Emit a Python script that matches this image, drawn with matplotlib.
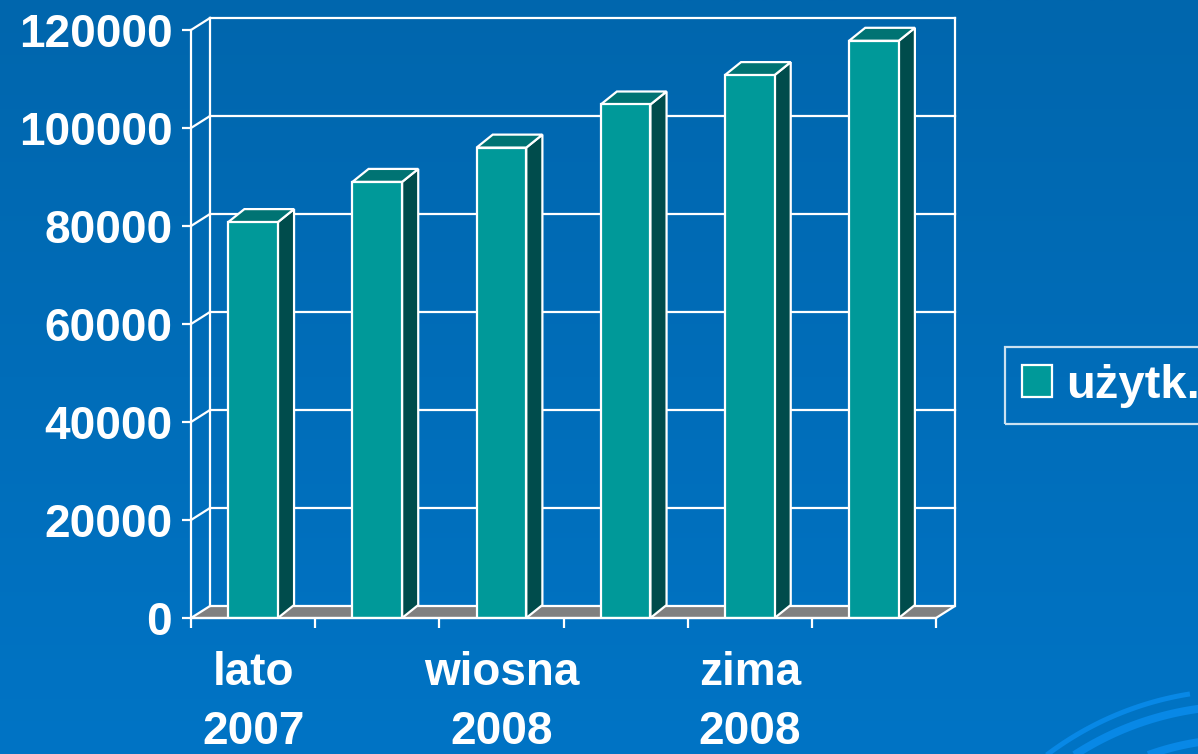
import numpy as np
import matplotlib.pyplot as plt
from matplotlib.patches import Polygon, Patch

plt.rcParams['font.family'] = ['Liberation Sans', 'DejaVu Sans']
plt.rcParams['font.weight'] = 'bold'

# data
values = [80800, 89000, 96000, 104800, 110800, 117800]
label_pos = [0, 2, 4]
labels = ['lato\n2007', 'wiosna\n2008', 'zima\n2008']
y_ticks = np.arange(0, 120001, 20000)
legend_label = 'użytk.'

# colours
c_front = '#009999'
c_top = '#007373'
c_side = '#004c4c'
c_floor = '#808080'
W = 'white'

dx, dy = 0.153, 2450     # wall depth (categories, value units)
bdx, bdy = 0.13, 2650    # bar depth
half = 0.2               # half bar width
lw = 1.6

fig = plt.figure(figsize=(11.98, 7.54), dpi=100)

# background gradient + decorative arcs
bg = fig.add_axes([0, 0, 1, 1])
grad = np.linspace(0, 1, 256)[:, None]
top_c = np.array([0x00, 0x66, 0xAD]) / 255
bot_c = np.array([0x00, 0x74, 0xC5]) / 255
img = top_c[None, None, :] * (1 - grad[:, :, None]) + bot_c[None, None, :] * grad[:, :, None]
bg.imshow(img, extent=[0, 1198, 754, 0], aspect='auto')
cx, cy = 1240, 1010
for r, a0, a1, w in [(320, 99, 140, 5), (304, 80, 140, 8), (271, 80, 140, 8)]:
    t = np.radians(np.linspace(a0, a1, 100))
    bg.plot(cx + r * np.cos(t), cy - r * np.sin(t), color='#0888e6', lw=w * 0.72,
            solid_capstyle='butt')
bg.set_xlim(0, 1198)
bg.set_ylim(754, 0)
bg.axis('off')

ax = fig.add_axes([191 / 1198, 136 / 754, 764 / 1198, 600 / 754])
ax.set_xlim(-0.5, 5.5 + dx)
ax.set_ylim(0, 120000 + dy)
ax.patch.set_visible(False)
for s in ax.spines.values():
    s.set_visible(False)

x0, x1 = -0.5, len(values) - 0.5
ymax = y_ticks[-1]

# floor
ax.add_patch(Polygon([(x0, 0), (x1, 0), (x1 + dx, dy), (x0 + dx, dy)],
                     facecolor=c_floor, edgecolor=W, lw=lw, clip_on=False, zorder=1))
# back wall gridlines and left wall diagonals
for t in y_ticks[1:]:
    ax.plot([x0 + dx, x1 + dx], [t + dy, t + dy], color=W, lw=lw, clip_on=False, zorder=1)
    ax.plot([x0, x0 + dx], [t, t + dy], color=W, lw=lw, clip_on=False, zorder=1)
ax.plot([x0 + dx, x0 + dx], [dy, ymax + dy], color=W, lw=lw, clip_on=False, zorder=1)
ax.plot([x1 + dx, x1 + dx], [dy, ymax + dy], color=W, lw=lw, clip_on=False, zorder=1)
ax.plot([x0, x0], [0, ymax], color=W, lw=lw, clip_on=False, zorder=1)

# 3d bars
for i, v in enumerate(values):
    l, r = i - half, i + half
    ax.add_patch(Polygon([(r, 0), (r + bdx, bdy), (r + bdx, v + bdy), (r, v)],
                         facecolor=c_side, edgecolor=W, lw=lw, zorder=3))
    ax.add_patch(Polygon([(l, v), (l + bdx, v + bdy), (r + bdx, v + bdy), (r, v)],
                         facecolor=c_top, edgecolor=W, lw=lw, zorder=3))
    ax.add_patch(Polygon([(l, 0), (r, 0), (r, v), (l, v)],
                         facecolor=c_front, edgecolor=W, lw=lw, zorder=4))
ax.plot([x0, x1], [0, 0], color=W, lw=lw, clip_on=False, zorder=5)

# ticks
ax.set_yticks(y_ticks)
ax.set_yticklabels([str(t) for t in y_ticks])
ax.tick_params(axis='y', length=6.5, width=lw, color=W, pad=7,
               labelsize=33, labelcolor=W)
ax.set_xticks(np.arange(x0, x1 + 0.01, 1))
ax.set_xticklabels([])
ax.tick_params(axis='x', which='major', length=7.5, width=lw, color=W)
ax.set_xticks(label_pos, minor=True)
ax.set_xticklabels(labels, minor=True)
ax.tick_params(axis='x', which='minor', length=0, pad=24, labelsize=33, labelcolor=W)
for lbl in ax.get_xticklabels(minor=True):
    lbl.set_linespacing(1.42)

leg = fig.legend(handles=[Patch(facecolor=c_front, edgecolor=W, lw=lw, label=legend_label)],
                 loc='upper left', bbox_to_anchor=(1005 / 1198, 1 - 347 / 754),
                 prop={'size': 34, 'weight': 'bold'}, labelcolor=W,
                 handlelength=0.65, handleheight=0.65, handletextpad=0.3,
                 borderpad=0.35, borderaxespad=0, fancybox=False,
                 edgecolor=W, facecolor='none', framealpha=None)
leg.get_frame().set_linewidth(lw)

fig.savefig('out.png', dpi=100)
